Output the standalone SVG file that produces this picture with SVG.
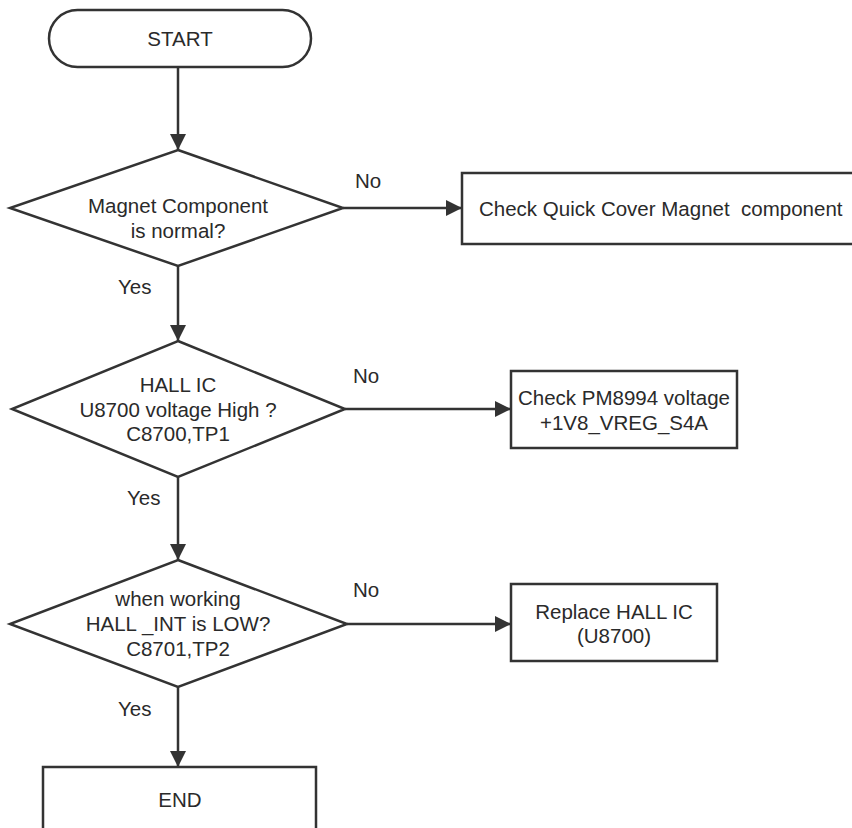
<svg xmlns="http://www.w3.org/2000/svg" width="852" height="828" viewBox="0 0 852 828">
<style>
  .shape { fill: #ffffff; stroke: #333333; stroke-width: 2.5; }
  .conn { fill: none; stroke: #333333; stroke-width: 2.5; }
  text { font-family: "Liberation Sans", Arial, sans-serif; font-size: 20.5px; fill: #2a2a2a; white-space: pre; }
  .c { text-anchor: middle; }
</style>
<defs>
  <marker id="arrow" markerUnits="userSpaceOnUse" markerWidth="17" markerHeight="17" refX="16" refY="8" orient="auto">
    <path d="M0,0 L16,8 L0,16 Z" fill="#333333"/>
  </marker>
</defs>
<rect width="852" height="828" fill="#ffffff"/>

<g id="connectors">
  <line class="conn" x1="178" y1="67" x2="178" y2="150" marker-end="url(#arrow)"/>
  <line class="conn" x1="343" y1="208" x2="462" y2="208" marker-end="url(#arrow)"/>
  <line class="conn" x1="178" y1="266" x2="178" y2="341" marker-end="url(#arrow)"/>
  <line class="conn" x1="345" y1="409" x2="511" y2="409" marker-end="url(#arrow)"/>
  <line class="conn" x1="178" y1="477" x2="178" y2="560" marker-end="url(#arrow)"/>
  <line class="conn" x1="347" y1="624" x2="511" y2="624" marker-end="url(#arrow)"/>
  <line class="conn" x1="178" y1="687" x2="178" y2="767" marker-end="url(#arrow)"/>
  <text x="355" y="188">No</text>
  <text x="353" y="383">No</text>
  <text x="353" y="597">No</text>
  <text x="118" y="294">Yes</text>
  <text x="127" y="505">Yes</text>
  <text x="118" y="716">Yes</text>
</g>

<g id="start">
  <rect class="shape" x="49" y="10" width="262" height="57" rx="28.5" ry="28.5"/>
  <text class="c" x="180" y="46">START</text>
</g>

<g id="decision1">
  <polygon class="shape" points="178,150 343,208 178,266 10,208"/>
  <text class="c" x="178" y="213">Magnet Component</text>
  <text class="c" x="178" y="238">is normal?</text>
</g>

<g id="box1">
  <rect class="shape" x="462" y="173" width="400" height="71"/>
  <text x="479" y="216" xml:space="preserve">Check Quick Cover Magnet  component</text>
</g>

<g id="decision2">
  <polygon class="shape" points="178,341 345,409 178,477 12,409"/>
  <text class="c" x="178" y="392">HALL IC</text>
  <text class="c" x="178" y="417">U8700 voltage High ?</text>
  <text class="c" x="178" y="441">C8700,TP1</text>
</g>

<g id="box2">
  <rect class="shape" x="511" y="371" width="226" height="77"/>
  <text class="c" x="624" y="405">Check PM8994 voltage</text>
  <text class="c" x="624" y="430">+1V8_VREG_S4A</text>
</g>

<g id="decision3">
  <polygon class="shape" points="178,560 347,624 178,687 10,624"/>
  <text class="c" x="178" y="606">when working</text>
  <text class="c" x="178" y="631">HALL _INT is LOW?</text>
  <text class="c" x="178" y="656">C8701,TP2</text>
</g>

<g id="box3">
  <rect class="shape" x="511" y="584" width="206" height="77"/>
  <text class="c" x="614" y="619">Replace HALL IC</text>
  <text class="c" x="614" y="643">(U8700)</text>
</g>

<g id="end">
  <rect class="shape" x="43" y="767" width="273" height="80"/>
  <text class="c" x="180" y="807">END</text>
</g>
</svg>
